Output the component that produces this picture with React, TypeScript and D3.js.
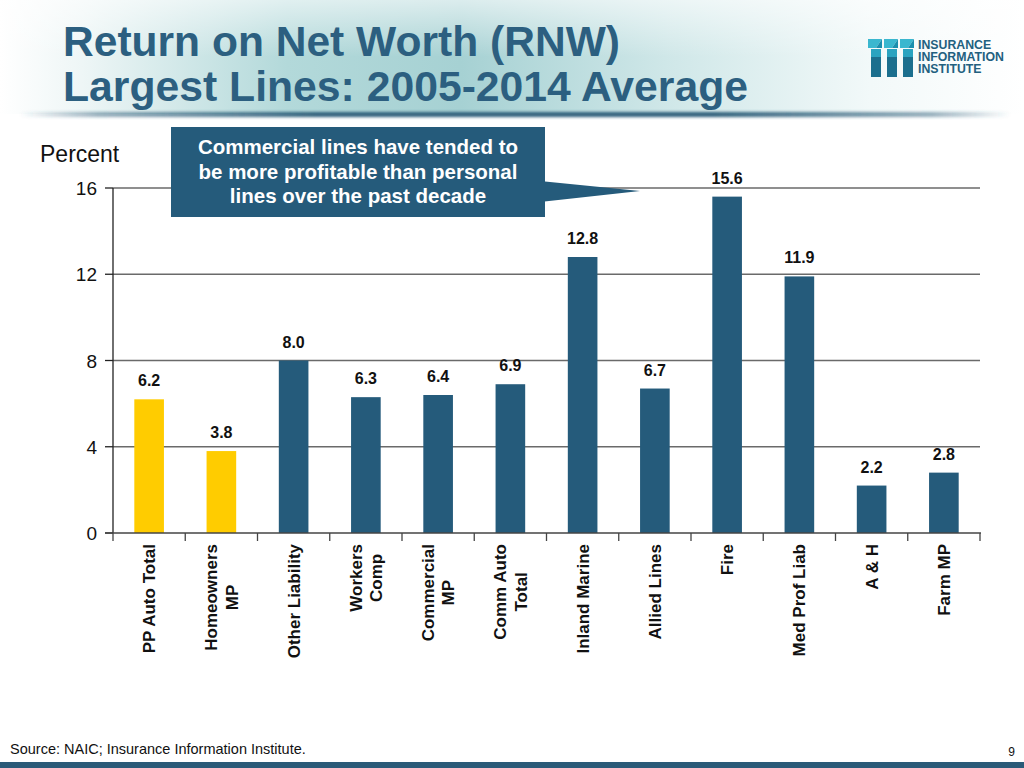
import React, { useEffect, useRef } from "react";
import * as d3 from "d3";

const categories = [
  "PP Auto Total",
  "Homeowners\nMP",
  "Other Liability",
  "Workers\nComp",
  "Commercial\nMP",
  "Comm Auto\nTotal",
  "Inland Marine",
  "Allied Lines",
  "Fire",
  "Med Prof Liab",
  "A & H",
  "Farm MP",
];
const values = [6.2, 3.8, 8.0, 6.3, 6.4, 6.9, 12.8, 6.7, 15.6, 11.9, 2.2, 2.8];
const personalLines = ["PP Auto Total", "Homeowners\nMP"];
const yTicks = [0, 4, 8, 12, 16];
const titleLines = ["Return on Net Worth (RNW)", "Largest Lines: 2005-2014 Average"];
const calloutLines = [
  "Commercial lines have tended to",
  "be more profitable than personal",
  "lines over the past decade",
];
const logoLines = ["INSURANCE", "INFORMATION", "INSTITUTE"];

const FONT = "'Liberation Sans', Arial, Helvetica, sans-serif";
const BLUE = "#255b7b";
const YELLOW = "#ffcc00";
const TITLE = "#2c5f80";

export default function App() {
  const ref = useRef<SVGSVGElement>(null);

  useEffect(() => {
    const svg = d3.select(ref.current);
    svg.selectAll("*").remove();

    const defs = svg.append("defs");
    const hg = defs.append("linearGradient").attr("id", "hdr").attr("x1", 0).attr("x2", 1).attr("y1", 0).attr("y2", 0);
    [
      [0, "#ffffff"],
      [0.08, "#eef6f6"],
      [0.28, "#b3d9da"],
      [0.45, "#a6d1d3"],
      [0.65, "#cfe7e8"],
      [0.85, "#f2f9f9"],
      [1, "#ffffff"],
    ].forEach(([o, c]) => hg.append("stop").attr("offset", o as number).attr("stop-color", c as string));
    const vg = defs.append("linearGradient").attr("id", "hdrv").attr("x1", 0).attr("x2", 0).attr("y1", 0).attr("y2", 1);
    vg.append("stop").attr("offset", 0).attr("stop-color", "#ffffff").attr("stop-opacity", 0.6);
    vg.append("stop").attr("offset", 0.5).attr("stop-color", "#ffffff").attr("stop-opacity", 0);
    vg.append("stop").attr("offset", 1).attr("stop-color", "#ffffff").attr("stop-opacity", 0);
    const sg = defs.append("linearGradient").attr("id", "shd").attr("x1", 0).attr("x2", 1).attr("y1", 0).attr("y2", 0);
    [
      [0, "#2d5f7a", 0],
      [0.08, "#2d5f7a", 0.5],
      [0.3, "#2d5f7a", 1],
      [0.7, "#2d5f7a", 1],
      [0.92, "#2d5f7a", 0.5],
      [1, "#2d5f7a", 0],
    ].forEach(([o, c, op]) =>
      sg.append("stop").attr("offset", o as number).attr("stop-color", c as string).attr("stop-opacity", op as number)
    );
    defs.append("filter").attr("id", "blur").attr("x", -0.1).attr("y", -2).attr("width", 1.2).attr("height", 5)
      .append("feGaussianBlur").attr("stdDeviation", 1.8);

    // header
    svg.append("rect").attr("x", 0).attr("y", 0).attr("width", 1024).attr("height", 114).attr("fill", "url(#hdr)");
    svg.append("rect").attr("x", 0).attr("y", 0).attr("width", 1024).attr("height", 114).attr("fill", "url(#hdrv)");
    svg.append("rect").attr("x", 20).attr("y", 112).attr("width", 990).attr("height", 5)
      .attr("fill", "url(#shd)").attr("filter", "url(#blur)");

    const titleW = [557, 685];
    titleLines.forEach((t, i) => {
      svg.append("text").attr("x", 63).attr("y", 56 + i * 45)
        .attr("font-family", FONT).attr("font-weight", "bold").attr("font-size", 43)
        .attr("fill", TITLE).attr("textLength", titleW[i]).attr("lengthAdjust", "spacingAndGlyphs")
        .text(t);
    });

    // logo
    const lg = svg.append("g");
    const colX = [868, 884, 900];
    colX.forEach((cx) => {
      lg.append("rect").attr("x", cx + 3).attr("y", 49).attr("width", 10).attr("height", 28).attr("fill", "#1b6f8e");
      lg.append("path").attr("d", `M${cx},39 L${cx + 14},39 L${cx + 8},48 L${cx},48 Z`).attr("fill", "#3ab7cf");
      lg.append("path").attr("d", `M${cx + 14},39 L${cx + 14},48 L${cx + 8},48 Z`).attr("fill", "#1b8fae");
      lg.append("rect").attr("x", cx + 3).attr("y", 49).attr("width", 10).attr("height", 8).attr("fill", "#2aa3c0");
    });
    logoLines.forEach((t, i) => {
      lg.append("text").attr("x", 918).attr("y", 49 + i * 12)
        .attr("font-family", FONT).attr("font-weight", "bold").attr("font-size", 12.3)
        .attr("fill", "#22607f").text(t);
    });

    // chart
    const x = d3.scaleBand<string>().domain(categories).range([113, 980]).paddingInner(0.59).paddingOuter(0.295);
    const y = d3.scaleLinear().domain([0, 16]).range([533, 188]);
    const step = x.step();

    // gridlines
    svg.append("g").selectAll("line").data(yTicks.filter((d) => d > 0)).join("line")
      .attr("x1", 113).attr("x2", 980).attr("y1", (d) => y(d)).attr("y2", (d) => y(d))
      .attr("stroke", "#6a6a6a").attr("stroke-width", 1.6);

    // bars
    svg.append("g").selectAll("rect").data(categories).join("rect")
      .attr("x", (d) => x(d)!).attr("width", x.bandwidth())
      .attr("y", (_, i) => y(values[i])).attr("height", (_, i) => y(0) - y(values[i]))
      .attr("fill", (d) => (personalLines.includes(d) ? YELLOW : BLUE));

    // value labels
    svg.append("g").selectAll("text").data(categories).join("text")
      .attr("x", (d) => x(d)! + x.bandwidth() / 2)
      .attr("y", (_, i) => y(values[i]) - 13)
      .attr("text-anchor", "middle").attr("font-family", FONT).attr("font-weight", "bold")
      .attr("font-size", 16).attr("fill", "#111").text((_, i) => values[i].toFixed(1));

    // y axis
    svg.append("line").attr("x1", 113).attr("x2", 113).attr("y1", y(16)).attr("y2", y(0))
      .attr("stroke", "#222").attr("stroke-width", 1.3);
    svg.append("g").selectAll("line").data(yTicks).join("line")
      .attr("x1", 105).attr("x2", 113).attr("y1", (d) => y(d)).attr("y2", (d) => y(d))
      .attr("stroke", "#222").attr("stroke-width", 1.3);
    svg.append("g").selectAll("text").data(yTicks).join("text")
      .attr("x", 97).attr("y", (d) => y(d) + 7).attr("text-anchor", "end")
      .attr("font-family", FONT).attr("font-size", 19).attr("fill", "#111").text((d) => String(d));
    svg.append("text").attr("x", 40).attr("y", 162).attr("font-family", FONT).attr("font-size", 23)
      .attr("fill", "#111").text("Percent");

    // x axis
    svg.append("line").attr("x1", 105).attr("x2", 981).attr("y1", y(0)).attr("y2", y(0))
      .attr("stroke", "#444").attr("stroke-width", 1.6);
    svg.append("g").selectAll("line").data(d3.range(categories.length + 1)).join("line")
      .attr("x1", (i) => 113 + i * step).attr("x2", (i) => 113 + i * step)
      .attr("y1", y(0)).attr("y2", y(0) + 8).attr("stroke", "#444").attr("stroke-width", 1.3);

    // category labels
    categories.forEach((c) => {
      const lines = c.split("\n");
      const cx = x(c)! + x.bandwidth() / 2;
      const g = svg.append("g").attr("transform", `translate(${cx},544) rotate(-90)`);
      const texts = lines.map((ln, j) => {
        const off = (j - (lines.length - 1) / 2) * 20.5;
        return g.append("text").attr("y", off + 6).attr("text-anchor", "middle")
          .attr("font-family", FONT).attr("font-weight", "bold").attr("font-size", 17)
          .attr("fill", "#111").text(ln);
      });
      const L = d3.max(texts, (t) => (t.node() as SVGTextElement).getComputedTextLength()) || 0;
      texts.forEach((t) => t.attr("x", -L / 2));
    });

    // callout
    svg.append("path").attr("d", "M540,181 L640,191 L540,202 Z").attr("fill", BLUE);
    svg.append("rect").attr("x", 171).attr("y", 127).attr("width", 374).attr("height", 90).attr("fill", BLUE);
    calloutLines.forEach((t, i) => {
      svg.append("text").attr("x", 358).attr("y", 154 + i * 24.5).attr("text-anchor", "middle")
        .attr("font-family", FONT).attr("font-weight", "bold").attr("font-size", 20.5)
        .attr("fill", "#ffffff").text(t);
    });

    // footer
    svg.append("text").attr("x", 10).attr("y", 754).attr("font-family", FONT).attr("font-size", 14.5)
      .attr("fill", "#111").text("Source: NAIC; Insurance Information Institute.");
    svg.append("text").attr("x", 1015).attr("y", 756).attr("text-anchor", "end").attr("font-family", FONT)
      .attr("font-size", 12).attr("fill", "#111").text("9");
    svg.append("rect").attr("x", 0).attr("y", 762).attr("width", 1024).attr("height", 6).attr("fill", "#2a5a78");
  }, []);

  return (
    <svg
      ref={ref}
      width={1024}
      height={768}
      style={{ position: "absolute", left: 0, top: 0, background: "#ffffff" }}
    />
  );
}
